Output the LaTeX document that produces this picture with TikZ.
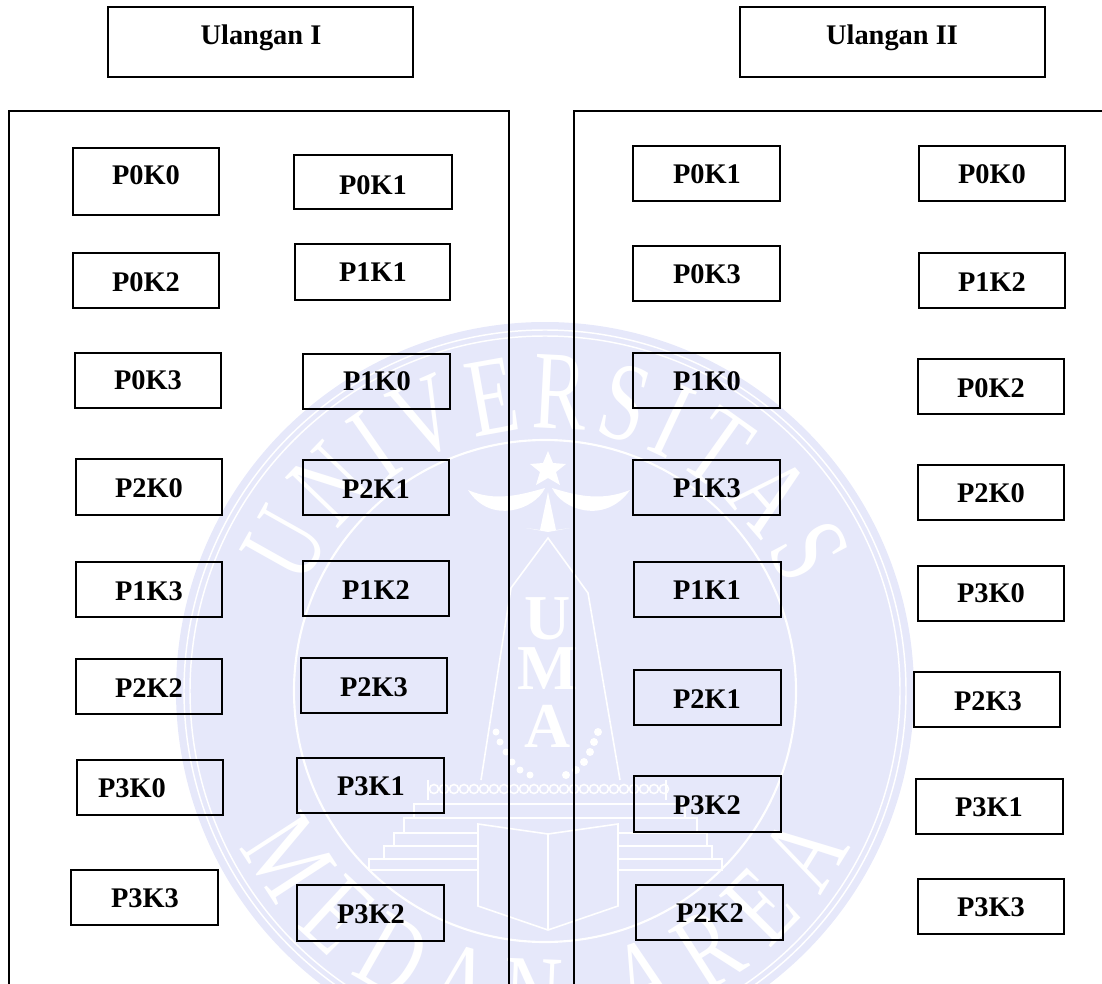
\documentclass[tikz,border=0pt]{standalone}
\usepackage{fontspec}
\setmainfont{Liberation Serif}
\newfontfamily\wmfont[FakeStretch=0.72]{Liberation Serif}
\usetikzlibrary{fit,decorations.text}
\definecolor{wmblue}{HTML}{E6E8FA}

\begin{document}
\begin{tikzpicture}[x=0.75pt,y=-0.75pt,
  box/.style={draw=black, line width=1.1pt, inner sep=0pt},
  lab/.style={font=\fontsize{21.3}{24}\selectfont\bfseries, text=black, inner sep=0pt},
  frm/.style={draw=black, line width=0.95pt},
  wml/.style={draw=white, line width=1.2pt},
  wmt/.style={font=\fontsize{48}{48}\selectfont\bfseries, text=white, inner sep=0pt}]
\useasboundingbox (0,0) rectangle (1102,984);

%% ── watermark ────────────────────────────────────────────
\begin{scope}
\clip (0,0) rectangle (1102,984);
\fill[wmblue] (545,691) circle (369);
\draw[white, line width=1.1pt] (545,691) circle (361);
\draw[white, line width=1.1pt] (545,691) circle (355);
\draw[white, line width=1.6pt] (545,691) circle (251);
\begin{scope}[shift={(545,691)},y=0.75pt]
\path[decorate, decoration={text along path, text align={fit to path},
  text={|\wmfont\fontsize{84}{84}\selectfont\color{white}|UNIVERSITAS}}]
  (157:262) arc[start angle=157, end angle=23, radius=262];
\path[decorate, decoration={text along path, text align={fit to path},
  text={|\wmfont\fontsize{84}{84}\selectfont\color{white}|MEDAN AREA}}]
  (207:342) arc[start angle=207, end angle=333, radius=342];
\end{scope}
% star and wings
\fill[white] (548,451) -- (553,463) -- (566,464) -- (556,472) -- (560,485) -- (548,478)
  -- (536,485) -- (540,472) -- (530,464) -- (543,463) -- cycle;
\fill[white] (468,490) .. controls (495,502) and (520,495) .. (545,488)
  .. controls (535,510) and (490,525) .. (468,490);
\fill[white] (630,490) .. controls (600,502) and (575,495) .. (552,488)
  .. controls (562,510) and (605,525) .. (630,490);
\fill[white] (548,492) -- (556,530) -- (570,528) -- (548,532) -- (526,528) -- (540,530) -- cycle;
% tower and letters
\draw[wml] (481,780) -- (511,588) -- (548,538) -- (588,593) -- (620,780);
\node[wmt] at (548,619) {U};
\node[wmt] at (548,669) {M};
\node[wmt] at (548,726) {A};
\foreach \x/\y in {598/732,594/742,590/752,584/762,576/770,566/775}
  {\fill[white] (\x,\y) circle (4);}
\foreach \x/\y in {496/732,500/742,506/752,512/762,520/770,530/775}
  {\fill[white] (\x,\y) circle (3.5);}
% chain
\foreach \x in {434,444,...,664}{\draw[wml] (\x,789) circle (4.5);}
\draw[wml] (428,780) -- (428,800);
\draw[wml] (666,780) -- (666,800);
% stairs
\foreach \xa/\xb/\ya/\yb in {414/685/804/818,404/697/818/833,394/707/833/846,384/712/846/859,369/722/859/870}
  {\draw[wml] (\xa,\yb) -- (\xa,\ya) -- (\xb,\ya) -- (\xb,\yb) -- cycle;}
% book
\fill[wmblue] (478,824) rectangle (618,915);
\draw[wml] (478,824) -- (548,834) -- (618,824) -- (618,906) -- (548,930) -- (478,906) -- cycle;
\draw[wml] (548,834) -- (548,930);
\end{scope}

%% ── frames ───────────────────────────────────────────────
\draw[frm] (9,984) -- (9,111) -- (509,111) -- (509,984);
\draw[frm] (574,984) -- (574,111) -- (1102,111);

%% ── Ulangan I ────────────────────────────────────────────
\foreach \id/\lab/\xa/\ya/\xb/\yb/\tx/\ty in {
  ua/Ulangan I/108/7/413/77/261/38,
  a1/P0K0/73/148/219/215/146/175,
  a2/P0K1/294/155/452/209/373/185,
  a3/P0K2/73/253/219/308/146/282,
  a4/P1K1/295/244/450/300/373/272,
  a5/P0K3/75/353/221/408/148/380,
  a6/P1K0/303/354/450/409/377/381,
  a7/P2K0/76/459/222/515/149/488,
  a8/P2K1/303/460/449/515/376/489,
  a9/P1K3/76/562/222/617/149/591,
  a10/P1K2/303/561/449/616/376/590,
  a11/P2K2/76/659/222/714/149/688,
  a12/P2K3/301/658/447/713/374/687,
  a13/P3K0/77/760/223/815/132/788,
  a14/P3K1/297/758/444/813/371/786,
  a15/P3K3/71/870/218/925/145/898,
  a16/P3K2/297/885/444/941/371/914}
  {\node[box, fit={(\xa,\ya)(\xb,\yb)}] (\id) {};
   \node[lab] (t\id) at (\tx,\ty) {\lab};}

%% ── Ulangan II ───────────────────────────────────────────
\foreach \id/\lab/\xa/\ya/\xb/\yb/\tx/\ty in {
  ub/Ulangan II/740/7/1045/77/892/38,
  b1/P0K1/633/146/780/201/707/174,
  b2/P0K0/919/146/1065/201/992/174,
  b3/P0K3/633/246/780/301/707/274,
  b4/P1K2/919/253/1065/308/992/282,
  b5/P1K0/633/353/780/408/707/381,
  b6/P0K2/918/359/1064/414/991/388,
  b7/P1K3/633/460/780/515/707/488,
  b8/P2K0/918/465/1064/520/991/493,
  b9/P1K1/634/562/781/617/707/590,
  b10/P3K0/918/566/1064/621/991/593,
  b11/P2K1/634/670/781/725/707/699,
  b12/P2K3/914/672/1060/727/988/701,
  b13/P3K2/634/776/781/832/707/805,
  b14/P3K1/916/779/1063/834/989/807,
  b15/P2K2/636/885/783/940/710/913,
  b16/P3K3/918/879/1064/934/991/907}
  {\node[box, fit={(\xa,\ya)(\xb,\yb)}] (\id) {};
   \node[lab] (t\id) at (\tx,\ty) {\lab};}
\end{tikzpicture}
\end{document}
